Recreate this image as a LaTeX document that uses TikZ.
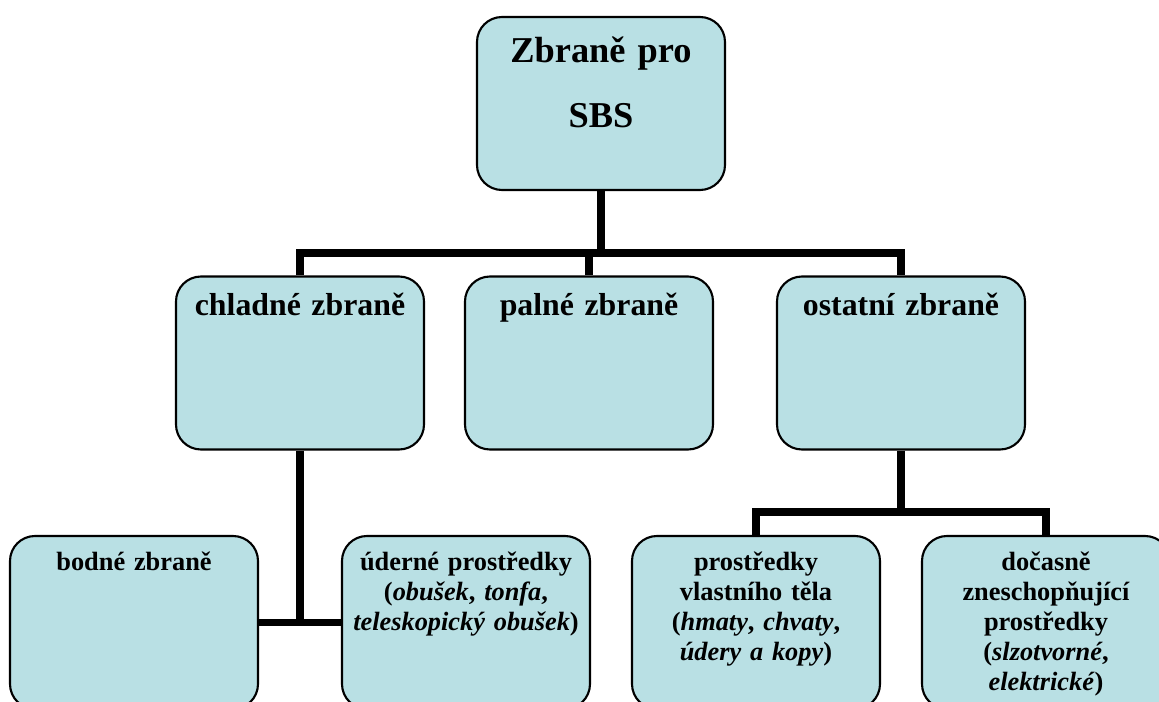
\documentclass[tikz,border=0pt]{standalone}
\usepackage{fontspec}
\setmainfont{Liberation Serif}
\usetikzlibrary{positioning}
\definecolor{boxfill}{RGB}{185,224,228}
\tikzset{
  % Style for the rounded boxes
  wbox/.style={
    rectangle, draw, line width=1.2pt, fill=boxfill, rounded corners=0.5cm,
    minimum width=4.96cm, minimum height=3.46cm, inner sep=0pt
  },
  % Styles for the text at the top of a box
  toptext/.style={
    anchor=north, inner sep=0pt, align=center, text width=4.8cm, yshift=-0.41cm,
    font=\bfseries\fontsize{20.7}{36.9}\selectfont
  },
  midtext/.style={
    anchor=north, inner sep=0pt, align=center, text width=4.8cm, yshift=-0.35cm,
    font=\bfseries\fontsize{18.1}{21}\selectfont
  },
  lowtext/.style={
    anchor=north, inner sep=0pt, align=center, text width=4.8cm, yshift=-0.34cm,
    font=\bfseries\fontsize{15}{17}\selectfont
  },
  % Style for the connecting lines
  link/.style={
    line width=4pt, line join=miter
  }
}
\begin{document}
\begin{tikzpicture}
    \useasboundingbox (0,0) rectangle (23.18,-14.04);

    \node[wbox, label={[toptext]north:Zbraně pro\\SBS}] (sbs) at (12.02,-2.07) {};

    \node[wbox, label={[midtext]north:chladné zbraně}] (chladne) at (6.0,-7.26) {};
    \node[wbox, label={[midtext]north:palné zbraně}] (palne) at (11.78,-7.26) {};
    \node[wbox, label={[midtext]north:ostatní zbraně}] (ostatni) at (18.02,-7.26) {};

    \node[wbox, label={[lowtext]north:bodné zbraně}] (bodne) at (2.68,-12.45) {};
    \node[wbox, label={[lowtext]north:úderné prostředky\\(\textit{obušek}, \textit{tonfa},\\\textit{teleskopický obušek})}] (uderne) at (9.32,-12.45) {};
    \node[wbox, label={[lowtext]north:prostředky\\vlastního těla\\(\textit{hmaty}, \textit{chvaty},\\\textit{údery a kopy})}] (prostredky) at (15.12,-12.45) {};
    \node[wbox, label={[lowtext]north:dočasně\\zneschopňující\\prostředky\\(\textit{slzotvorné},\\\textit{elektrické})}] (docasne) at (20.92,-12.45) {};

    \coordinate (bus1) at (0,-5.06);
    \coordinate (bus3) at (0,-10.24);

    \draw[link] (sbs.south) -- (sbs.south |- bus1);
    \draw[link] (chladne.north) |- (ostatni.north |- bus1) -- (ostatni.north);
    \draw[link] (palne.north) -- (palne.north |- bus1);

    \draw[link] (chladne.south) -- (chladne.south |- bodne.east);
    \draw[link] (bodne.east) -- (uderne.west);

    \draw[link] (ostatni.south) -- (ostatni.south |- bus3);
    \draw[link] (prostredky.north) |- (docasne.north |- bus3) -- (docasne.north);
\end{tikzpicture}
\end{document}
